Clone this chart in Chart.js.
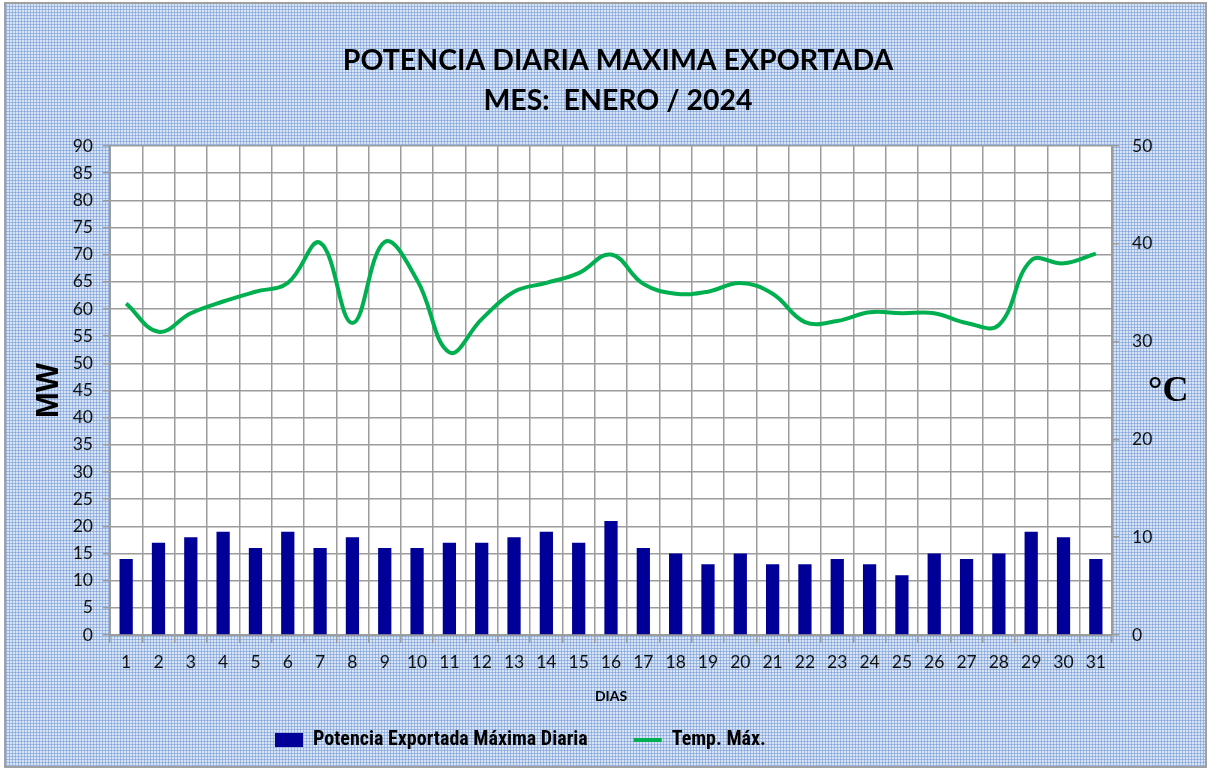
<!DOCTYPE html>
<html>
<head>
<meta charset="utf-8">
<script src="https://cdn.jsdelivr.net/npm/chart.js@4.4.1/dist/chart.umd.min.js"></script>
<style>
  html, body { margin:0; padding:0; background:#fff; }
  #frame {
    position:absolute; left:4px; top:2px; width:1199px; height:762px;
    border:2px solid #a0a0a0;
    background-color:#d8e4f4;
    background-image:
      repeating-linear-gradient(0deg, rgba(112,152,212,0.55) 0px, rgba(112,152,212,0.55) 1px, transparent 1px, transparent 3px),
      repeating-linear-gradient(90deg, rgba(112,152,212,0.55) 0px, rgba(112,152,212,0.55) 1px, transparent 1px, transparent 3px);
  }
  #wrap { position:absolute; left:0; top:0; width:1208px; height:769px; }
  #degC {
    position:absolute; left:1148px; top:368px;
    font-family:"Liberation Serif","DejaVu Serif",serif; font-weight:bold; font-size:36px; color:#000;
  }
</style>
</head>
<body>
<div id="frame"></div>
<div id="wrap"><canvas id="c" width="1208" height="769"></canvas></div>
<div id="degC">°C</div>
<script>
const dias = ['1','2','3','4','5','6','7','8','9','10','11','12','13','14','15','16','17','18','19','20','21','22','23','24','25','26','27','28','29','30','31'];
const potencia = [14,17,18,19,16,19,16,18,16,16,17,17,18,19,17,21,16,15,13,15,13,13,14,13,11,15,14,15,19,18,14];
const tempMax = [33.9,31.0,32.9,34.1,35.1,36.0,40.1,31.9,40.2,36.3,28.9,32.3,35.1,36.0,37.0,38.9,35.9,34.9,35.1,36.0,34.9,32.0,32.1,33.0,32.9,32.9,31.9,31.7,38.3,38.0,39.0];
const tituloLineas = ['POTENCIA DIARIA MAXIMA EXPORTADA', 'MES:  ENERO / 2024'];
const serieBarras = 'Potencia Exportada Máxima Diaria';
const serieLinea = 'Temp. Máx.';
const tituloX = 'DIAS';
const tituloY = 'MW';

const FONT = "Lato, 'Open Sans', sans-serif";
const LEGEND_FONT = "'Roboto Condensed', Lato, sans-serif";
const GRID = '#9c9c9c';

const plotBg = {
  id:'plotBg',
  beforeDraw(chart){
    const {ctx, chartArea:a} = chart;
    ctx.save(); ctx.fillStyle='#ffffff';
    ctx.fillRect(a.left, a.top, a.right-a.left, a.bottom-a.top);
    ctx.restore();
  }
};
const legendPos = {
  id:'legendPos',
  afterLayout(chart){
    const lg = chart.legend;
    const pad = lg.options.labels.padding;
    const fs = lg.options.labels.font.size;
    lg.left = 275 - pad;
    lg.top = 740 - pad - fs/2;
  }
};

new Chart(document.getElementById('c'), {
  type:'bar',
  data:{
    labels: dias,
    datasets:[
      { type:'bar', label: serieBarras, data: potencia, yAxisID:'y',
        backgroundColor:'#000099', borderWidth:0,
        barPercentage:0.41, categoryPercentage:1.0 },
      { type:'line', label: serieLinea, data: tempMax, yAxisID:'y2',
        borderColor:'#00b050', backgroundColor:'#00b050', borderWidth:4,
        pointRadius:0, tension:0.4, fill:false }
    ]
  },
  options:{
    responsive:false, animation:false,
    layout:{ padding:{ top:41, left:28, right:0, bottom:14 } },
    plugins:{
      tooltip:{ enabled:false },
      title:{ display:true, text: tituloLineas, color:'#000',
        font:{ family:FONT, weight:'bold', size:28.5, lineHeight:40/28.5 },
        padding:{ top:0, bottom:25 } },
      legend:{ position:'bottom', align:'start', maxHeight:40,
        labels:{ usePointStyle:true, pointStyleWidth:28, boxHeight:14, padding:46, color:'#000',
          font:{ family:LEGEND_FONT, weight:'bold', size:20 },
          generateLabels(chart){
            const labels = Chart.defaults.plugins.legend.labels.generateLabels(chart);
            labels[0].pointStyle = 'rect';
            labels[1].pointStyle = 'line';
            return labels;
          }
        } }
    },
    scales:{
      x:{
        grid:{ color:GRID, lineWidth:1.5, tickLength:8, offset:true },
        border:{ color:GRID, width:2 },
        ticks:{ color:'#111', font:{ family:FONT, size:17.5 }, padding:9, maxRotation:0, autoSkip:false },
        title:{ display:true, text:tituloX, color:'#000', font:{ family:FONT, weight:'bold', size:14 }, padding:{ top:0, bottom:10 } },
        afterFit(s){ s.height = 80; }
      },
      y:{
        position:'left', min:0, max:90,
        grid:{ color:GRID, lineWidth:1.5, tickLength:7 },
        border:{ color:GRID, width:2 },
        ticks:{ stepSize:5, color:'#111', font:{ family:FONT, size:17.5 }, padding:10 },
        title:{ display:true, text:tituloY, color:'#000', font:{ family:"'Liberation Sans', Arial, sans-serif", weight:'bold', size:31 }, padding:{ top:3, bottom:0 } },
        afterFit(s){ s.width = 82; }
      },
      y2:{
        position:'right', min:0, max:50,
        grid:{ drawOnChartArea:false, color:GRID, lineWidth:1.5, tickLength:7 },
        border:{ color:GRID, width:2 },
        ticks:{ stepSize:10, color:'#111', font:{ family:FONT, size:17.5 }, padding:13 },
        afterFit(s){ s.width = 96; }
      }
    }
  },
  plugins:[plotBg, legendPos]
});
</script>
</body>
</html>
